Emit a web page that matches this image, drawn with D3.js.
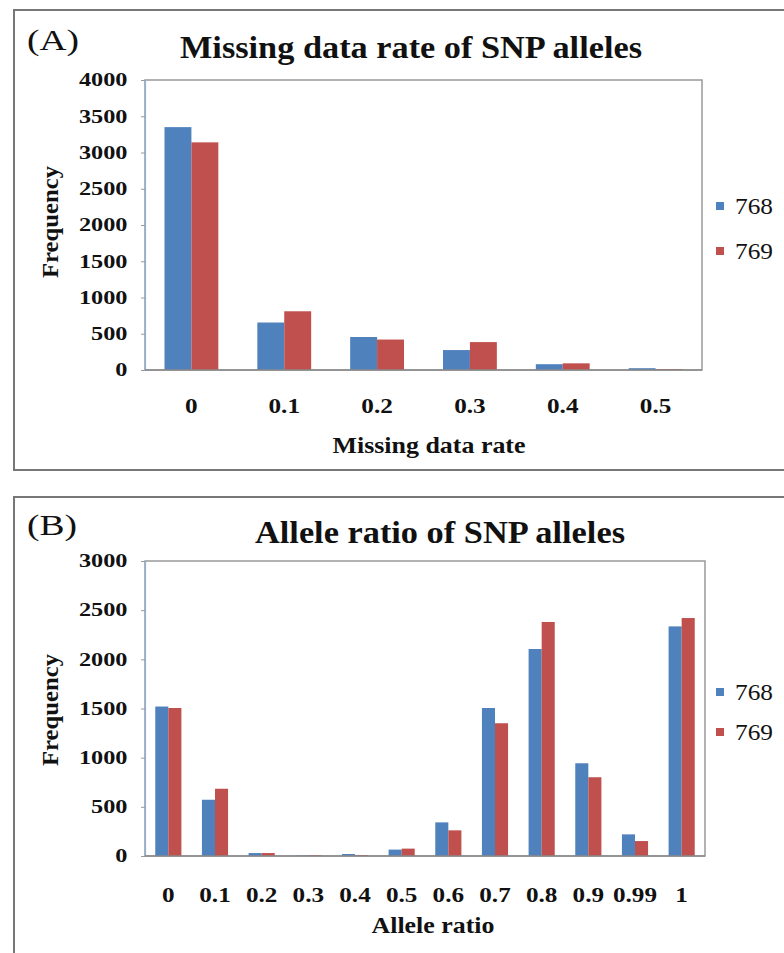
<!DOCTYPE html>
<html><head><meta charset="utf-8">
<script src="https://cdn.jsdelivr.net/npm/d3@7"></script>
<style>
body{margin:0;background:#fff;}
svg{display:block;}
text{font-family:"Liberation Serif","Times New Roman",serif;fill:#111;}
</style></head>
<body>
<svg id="c" width="784" height="953"></svg>
<script>
// ---- Data ----
const seriesNames = ["768", "769"];
const seriesColors = ["#4F81BD", "#C0504D"];

const missingCategories = ["0", "0.1", "0.2", "0.3", "0.4", "0.5"];
const missing768 = [3350, 655, 455, 275, 80, 25];
const missing769 = [3140, 810, 420, 385, 92, 12];
const missingTicks = [0, 500, 1000, 1500, 2000, 2500, 3000, 3500, 4000];

const ratioCategories = ["0", "0.1", "0.2", "0.3", "0.4", "0.5", "0.6", "0.7", "0.8", "0.9", "0.99", "1"];
const ratio768 = [1520, 572, 30, 6, 20, 65, 342, 1505, 2105, 943, 220, 2335];
const ratio769 = [1505, 684, 30, 8, 10, 75, 261, 1350, 2380, 801, 152, 2420];
const ratioTicks = [0, 500, 1000, 1500, 2000, 2500, 3000];

const svg = d3.select("#c");

// outer frames
function frame(y0, y1) {
  svg.append("path")
    .attr("d", `M790,${y0} H14 V${y1} H790`)
    .attr("fill", "none").attr("stroke", "#777").attr("stroke-width", 2);
}
frame(10, 470);
frame(497, 960);

function stretchedText(g, x, y, str, size, weight, anchor, sx) {
  return g.append("text")
    .attr("transform", `translate(${x},${y}) scale(${sx},1)`)
    .attr("text-anchor", anchor).attr("font-size", size).attr("font-weight", weight)
    .text(str);
}

function panel(cfg) {
  const g = svg.append("g");
  const x = d3.scaleBand().domain(cfg.cats).range([cfg.left, cfg.right])
    .paddingInner(cfg.pad).paddingOuter(cfg.pad / 2);
  const y = d3.scaleLinear().domain([0, cfg.max]).range([cfg.bottom, cfg.top]);
  const xs = d3.scaleBand().domain(seriesNames).range([0, x.bandwidth()]);

  // plot area border
  g.append("rect").attr("x", cfg.left).attr("y", cfg.top)
    .attr("width", cfg.right - cfg.left).attr("height", cfg.bottom - cfg.top)
    .attr("fill", "#fff").attr("stroke", "#999").attr("stroke-width", 1.5);

  // bars
  const data = cfg.cats.map((c, i) => ({ c, v: [cfg.s1[i], cfg.s2[i]] }));
  const grp = g.selectAll("g.grp").data(data).enter().append("g")
    .attr("transform", d => `translate(${x(d.c)},0)`);
  grp.selectAll("rect").data(d => d.v.map((v, k) => ({ v, k }))).enter().append("rect")
    .attr("x", d => xs(seriesNames[d.k]))
    .attr("width", xs.bandwidth())
    .attr("y", d => y(d.v))
    .attr("height", d => cfg.bottom - y(d.v))
    .attr("fill", d => seriesColors[d.k]);

  // y axis
  const ya = g.append("g").attr("transform", `translate(${cfg.left},0)`)
    .call(d3.axisLeft(y).tickValues(cfg.ticks).tickFormat(d3.format("d")).tickSize(4).tickPadding(9));
  ya.select(".domain").attr("stroke", "#8fb0d8").attr("stroke-width", 1.2);
  ya.selectAll(".tick line").attr("stroke", "#999");
  ya.selectAll(".tick text").attr("font-size", 18).attr("font-weight", "bold")
    .attr("font-family", "Liberation Serif").attr("fill", "#111")
    .attr("transform", "scale(1.35,1)");

  // baseline
  g.append("line").attr("x1", cfg.left).attr("x2", cfg.right)
    .attr("y1", cfg.bottom).attr("y2", cfg.bottom)
    .attr("stroke", "#8a8a8a").attr("stroke-width", 1.5);

  // x axis labels
  const xa = g.append("g").attr("transform", `translate(0,${cfg.bottom})`)
    .call(d3.axisBottom(x).tickSize(0).tickPadding(cfg.xPad));
  xa.select(".domain").remove();
  xa.selectAll(".tick text").attr("font-size", 21).attr("font-weight", "bold")
    .attr("font-family", "Liberation Serif").attr("fill", "#111")
    .attr("transform", "scale(1.2,1)");

  // titles
  g.append("text").attr("x", cfg.titleX).attr("y", cfg.titleY)
    .attr("text-anchor", "middle").attr("font-size", 32).attr("font-weight", "bold")
    .attr("textLength", cfg.titleW).attr("lengthAdjust", "spacingAndGlyphs")
    .text(cfg.title);
  stretchedText(g, 27, cfg.labelY, cfg.label, 30, "normal", "start", 1.25);
  g.append("text").attr("x", cfg.xTitleX).attr("y", cfg.xTitleY)
    .attr("text-anchor", "middle").attr("font-size", 23).attr("font-weight", "bold")
    .attr("textLength", cfg.xTitleW).attr("lengthAdjust", "spacingAndGlyphs")
    .text(cfg.xTitle);
  g.append("text").attr("transform", `translate(58,${cfg.yTitleY}) rotate(-90)`)
    .attr("text-anchor", "middle").attr("font-size", 24).attr("font-weight", "bold")
    .attr("textLength", 112).attr("lengthAdjust", "spacingAndGlyphs")
    .text("Frequency");

  // legend
  seriesNames.forEach((n, k) => {
    const ly = cfg.legY[k];
    g.append("rect").attr("x", 716).attr("y", ly - 4).attr("width", 8).attr("height", 8)
      .attr("fill", seriesColors[k]);
    stretchedText(g, 735, ly + 8, n, 23, "normal", "start", 1.1);
  });
}

panel({
  cats: missingCategories, s1: missing768, s2: missing769, ticks: missingTicks, max: 4000,
  left: 145, right: 702, top: 80, bottom: 370, pad: 0.42, xPad: 28,
  title: "Missing data rate of SNP alleles", titleX: 411, titleY: 58, titleW: 462,
  label: "(A)", labelY: 50,
  xTitle: "Missing data rate", xTitleX: 429, xTitleY: 453, xTitleW: 193, yTitleY: 222,
  legY: [206, 251]
});

panel({
  cats: ratioCategories, s1: ratio768, s2: ratio769, ticks: ratioTicks, max: 3000,
  left: 145, right: 705, top: 561, bottom: 856, pad: 0.44, xPad: 31,
  title: "Allele ratio of SNP alleles", titleX: 440, titleY: 543, titleW: 370,
  label: "(B)", labelY: 535,
  xTitle: "Allele ratio", xTitleX: 433, xTitleY: 933, xTitleW: 123, yTitleY: 710,
  legY: [692, 732]
});
</script>
</body></html>
